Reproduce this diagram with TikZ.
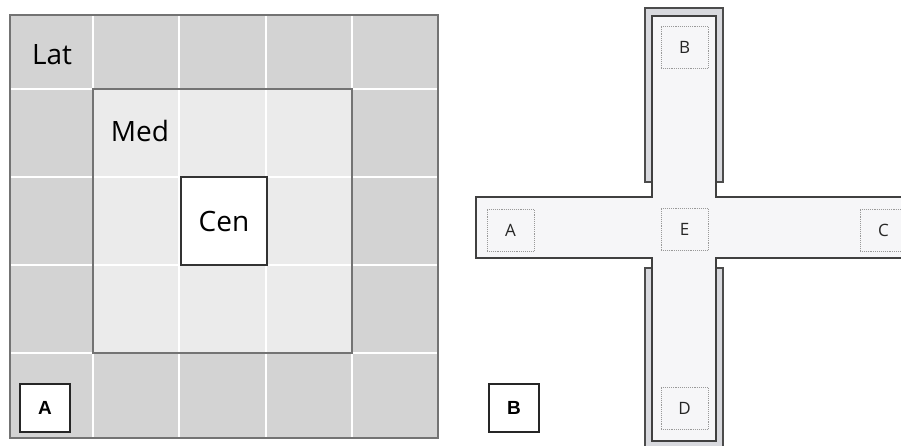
\documentclass[tikz,border=0pt]{standalone}
\usepackage{fontspec}
\setmainfont{Open Sans}
\newfontfamily\tagfont{Liberation Sans}
\definecolor{latgrey}{HTML}{D3D3D3}
\definecolor{medgrey}{HTML}{EBEBEB}
\definecolor{railgrey}{HTML}{D8D9DE}
\definecolor{floorgrey}{HTML}{F6F6F8}
\begin{document}
\begin{tikzpicture}[x=1pt,y=-1pt,
  zonetext/.style={font=\fontsize{28}{31}\selectfont, text=black, inner sep=0pt},
  tagbox/.style={draw=black!85, line width=1.2pt, fill=white, minimum width=50pt, minimum height=48pt,
                 inner sep=0pt, font=\tagfont\bfseries\fontsize{19}{21}\selectfont},
  spot/.style={draw=black!40, densely dotted, line width=0.9pt, minimum width=47pt, minimum height=42pt,
               inner sep=0pt, font=\fontsize{17}{19}\selectfont, text=black!85},
  wall/.style={draw=black!75, line width=1.4pt},
  rail/.style={fill=railgrey, draw=black!70, line width=1.2pt},
]
\useasboundingbox (0,0) rectangle (901,445);

% ---------- panel A: lateral / medial / central zones ----------
\fill[latgrey] (10,15) rectangle (438,438);
\fill[medgrey] (93,89) rectangle (352,353);
% white grid
\foreach \gx in {93,179,266,352}
  \draw[white, line width=1.5pt] (\gx,15) -- (\gx,438);
\foreach \gy in {89,177,265,353}
  \draw[white, line width=1.5pt] (10,\gy) -- (438,\gy);
\draw[black!55, line width=1.5pt] (10,15) rectangle (438,438);
\draw[black!55, line width=1.3pt] (93,89) rectangle (352,353);
\node[draw=black!80, line width=1.4pt, fill=white, minimum width=86pt, minimum height=88pt,
      inner sep=0pt, zonetext] (cen) at (224,221) {Cen};
\node[zonetext] (lat) at (52,55) {Lat};
\node[zonetext] (med) at (140,131) {Med};
\node[tagbox] (tagA) at (45,408) {A};

% ---------- panel B: cross maze ----------
\begin{scope}
\clip (470,0) rectangle (901,445);
% grey side rails of the closed arms
\filldraw[rail]
  (645,182) -- (645,8) -- (723,8) -- (723,182) -- (716,182) -- (716,16) -- (652,16) -- (652,182) -- cycle;
\filldraw[rail]
  (645,268) -- (645,449) -- (723,449) -- (723,268) -- (716,268) -- (716,441) -- (652,441) -- (652,268) -- cycle;
% floor of the cross
\filldraw[fill=floorgrey, wall]
  (476,197) -- (652,197) -- (652,16) -- (716,16) -- (716,197) -- (910,197)
  -- (910,258) -- (716,258) -- (716,441) -- (652,441) -- (652,258) -- (476,258) -- cycle;
\end{scope}
\node[spot] (zA) at (510.5,230) {A};
\node[spot] (zB) at (684.5,47) {B};
\node[spot] (zE) at (684.5,229.5) {E};
\node[spot] (zD) at (684.5,408.5) {D};
\begin{scope}
\clip (470,0) rectangle (901,445);
\node[spot] (zC) at (883.5,230) {C};
\end{scope}
\node[tagbox] (tagB) at (514,408) {B};
\end{tikzpicture}
\end{document}
